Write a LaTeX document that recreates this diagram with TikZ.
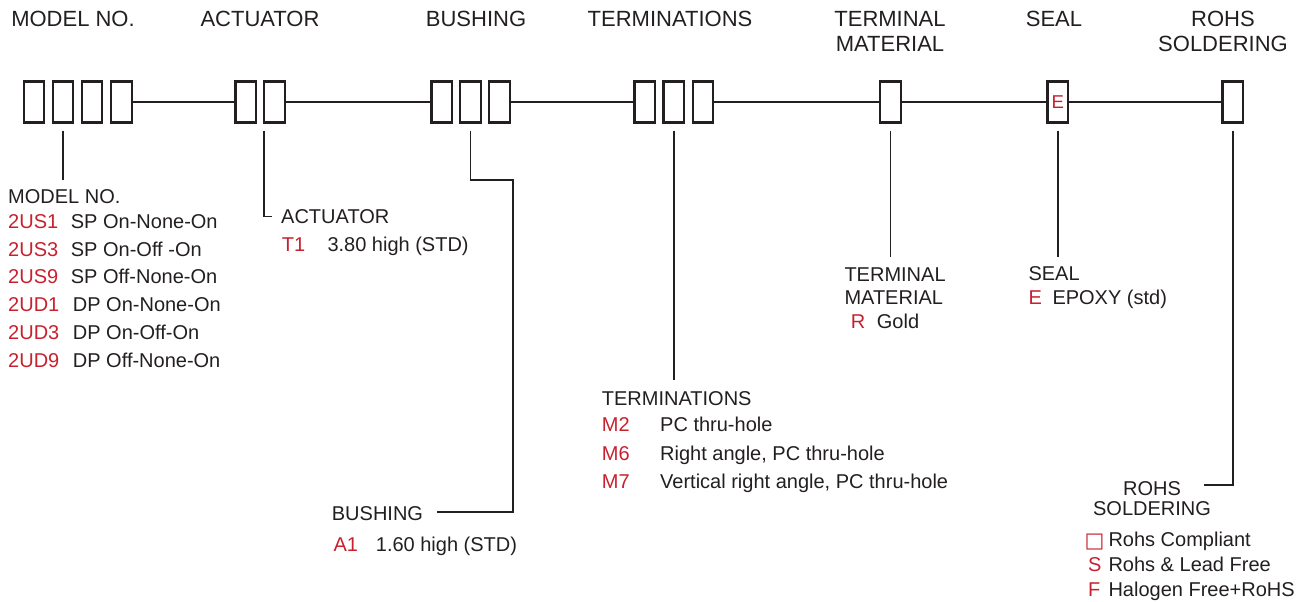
\documentclass[tikz,border=0pt]{standalone}
\usepackage{fontspec}
\setmainfont{Liberation Sans}
\newfontfamily\symfont{DejaVu Sans}
\definecolor{codered}{RGB}{200,32,46}
\definecolor{ink}{RGB}{35,31,32}
\begin{document}
\begin{tikzpicture}[x=1pt,y=-1pt,
  cell/.style={draw=ink,line width=2.2pt,minimum width=20.5pt,minimum height=41pt,inner sep=0pt,outer sep=0pt},
  head/.style={font=\fontsize{22}{25}\selectfont,text=ink,inner sep=0pt,anchor=base,align=center},
  lbl/.style={font=\fontsize{20}{22.3}\selectfont,text=ink,inner sep=0pt,anchor=base west},
  lblc/.style={lbl,anchor=base,align=center},
  code/.style={lbl,text=codered},
  wire/.style={draw=ink,line width=1.9pt},
  drop/.style={wire,shorten <=8pt}]
\useasboundingbox (0,0) rectangle (1302,602);

% header texts (multi-line nodes are placed by the baseline of their last line)
\node[head] (hm) at (73,27) {MODEL NO.};
\node[head] (ha) at (260,27) {ACTUATOR};
\node[head] (hb) at (476,27) {BUSHING};
\node[head] (ht) at (670,27) {TERMINATIONS};
\node[head] (htm) at (890,52) {TERMINAL\\MATERIAL};
\node[head] (hs) at (1054,27) {SEAL};
\node[head] (hr) at (1223,52) {ROHS\\SOLDERING};

% boxes
\node[cell] (m1) at (34,102) {};
\node[cell] (m2) at (63,102) {};
\node[cell] (m3) at (92,102) {};
\node[cell] (m4) at (121.6,102) {};
\node[cell] (a1) at (245.8,102) {};
\node[cell] (a2) at (274.5,102) {};
\node[cell] (b1) at (441.7,102) {};
\node[cell] (b2) at (470.5,102) {};
\node[cell] (b3) at (499.5,102) {};
\node[cell] (t1) at (644.7,102) {};
\node[cell] (t2) at (673.8,102) {};
\node[cell] (t3) at (703,102) {};
\node[cell] (tm) at (890.5,102) {};
\node[cell,text=codered,font=\fontsize{18.6}{20}\selectfont] (se) at (1057.8,102) {\raisebox{-2.5pt}{E}};
\node[cell] (ro) at (1232.8,102) {};

% chain connectors
\draw[wire] (m4.east) -- (a1.west);
\draw[wire] (a2.east) -- (b1.west);
\draw[wire] (b3.east) -- (t1.west);
\draw[wire] (t3.east) -- (tm.west);
\draw[wire] (tm.east) -- (se.west);
\draw[wire] (se.east) -- (ro.west);

% model list
\node[lbl] (ml) at (8,203) {MODEL NO.};
\foreach \c/\d/\y/\dx [count=\i] in {2US1/SP On-None-On/228/70.7, 2US3/SP On-Off -On/256/70.7, 2US9/SP Off-None-On/283.5/70.7, 2UD1/DP On-None-On/311.5/72.7, 2UD3/DP On-Off-On/339/72.7, 2UD9/DP Off-None-On/367/72.7}{
  \node[code] (mc\i) at (8,\y) {\c};
  \node[lbl] (md\i) at (\dx,\y) {\d};
}
\coordinate (mEnd) at (m2.south |- 0,180);
\draw[drop] (m2.south) -- (mEnd);

% actuator
\node[lbl] (al) at (281,223) {ACTUATOR};
\node[code] (ac) at (281.7,251.7) {T1};
\node[lbl] (ad) at (327.3,251.7) {3.80 high (STD)};
\coordinate (aEnd) at (272,216.5);
\draw[drop] (a2.south west) |- (aEnd);

% bushing
\node[lbl] (bl) at (331.7,520) {BUSHING};
\node[code] (bc) at (333.3,551.7) {A1};
\node[lbl] (bd) at (375.7,551.7) {1.60 high (STD)};
\coordinate (bA) at (513.3,180);
\coordinate (bEnd) at (437,512);
\draw[drop] (b2.south) |- (bA) |- (bEnd);

% terminations
\node[lbl] (tl) at (601.7,405) {TERMINATIONS};
\foreach \c/\d/\y [count=\i] in {M2/PC thru-hole/431.7, M6/{Right angle, PC thru-hole}/460, M7/{Vertical right angle, PC thru-hole}/488.3}{
  \node[code] (tc\i) at (601.7,\y) {\c};
  \node[lbl] (td\i) at (660,\y) {\d};
}
\coordinate (tEnd) at (t2.south |- 0,380);
\draw[drop] (t2.south) -- (tEnd);

% terminal material
\node[lbl,align=left] (tml) at (844.3,304) {TERMINAL\\MATERIAL};
\node[code] (tmc) at (850.7,328.3) {R};
\node[lbl] (tmd) at (876.7,328.3) {Gold};
\coordinate (tmEnd) at (tm.south |- 0,257);
\draw[drop] (tm.south) -- (tmEnd);

% seal
\node[lbl] (sl) at (1028.3,280.7) {SEAL};
\node[code] (sc) at (1028.3,304) {E};
\node[lbl] (sd) at (1052.3,304) {EPOXY (std)};
\coordinate (sEnd) at (se.south |- 0,257);
\draw[drop] (se.south) -- (sEnd);

% rohs
\node[lblc,font=\fontsize{20}{20}\selectfont] (rl) at (1152,515) {ROHS\\SOLDERING};
\node[code,font=\symfont\fontsize{21}{22}\selectfont] (rc1) at (1084.5,547.5) {□};
\node[lbl] (rd1) at (1108.3,546.7) {Rohs Compliant};
\node[code] (rc2) at (1088,571.7) {S};
\node[lbl] (rd2) at (1108.3,571.7) {Rohs \& Lead Free};
\node[code] (rc3) at (1088,596.7) {F};
\node[lbl] (rd3) at (1108.3,596.7) {Halogen Free+RoHS};
\coordinate (rEnd) at (1204,485);
\draw[drop] (ro.south) |- (rEnd);
\end{tikzpicture}
\end{document}
